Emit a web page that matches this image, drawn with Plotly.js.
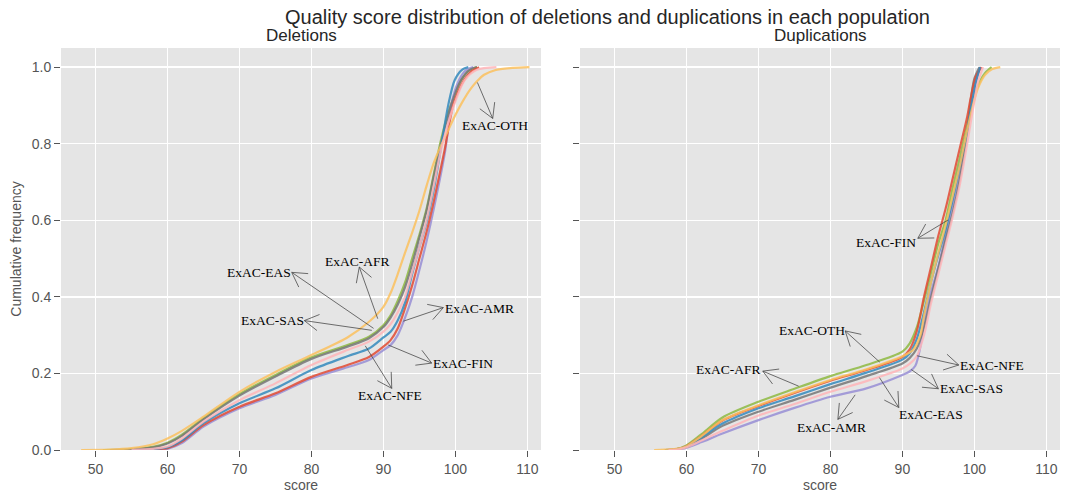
<!DOCTYPE html>
<html>
<head>
<meta charset="utf-8">
<script src="https://cdn.plot.ly/plotly-3.0.1.min.js"></script>
<style>html,body{margin:0;padding:0;background:#fff;}#chart{width:1070px;height:495px;}</style>
</head>
<body>
<div id="chart"></div>
<script>
// ---------- DATA ----------
const populations = ['ExAC-AFR','ExAC-AMR','ExAC-EAS','ExAC-FIN','ExAC-NFE','ExAC-OTH','ExAC-SAS'];
const popColors   = ['#8EBA42','#988ED5','#777777','#E24A33','#348ABD','#FBC15E','#FFB5B8'];

// Deletions (score, cumulative frequency)
const delAFR_x = [51,55,58,60,62,65,70,75,80,85,88,90,91,92,93,94,95,96,97,98,99.35,100.8,102,103];
const delAFR_y = [0,0.002,0.008,0.019,0.04,0.083,0.146,0.196,0.242,0.274,0.296,0.326,0.352,0.39,0.437,0.5,0.562,0.63,0.72,0.81,0.9,0.966,0.993,1.0];
const delAMR_x = [58,59,60,62,65,70,75,80,85,88,90,91,92,93,94,95,96,97,98.6,99.4,100.5,101.5,102.5];
const delAMR_y = [0,0.001,0.003,0.018,0.061,0.109,0.144,0.187,0.216,0.235,0.261,0.274,0.3,0.345,0.4,0.47,0.545,0.63,0.783,0.9,0.966,0.992,1.0];
const delEAS_x = [52,55,58,60,62,65,70,75,80,85,88,90,91,92,93,94,95,96,97,98,99.4,100.8,102,103];
const delEAS_y = [0,0.002,0.007,0.017,0.037,0.08,0.142,0.192,0.238,0.27,0.292,0.321,0.346,0.38,0.425,0.485,0.555,0.625,0.715,0.8,0.9,0.966,0.993,1.0];
const delFIN_x = [56,58,60,62,65,70,75,80,85,88,90,91,92,93,94,95,96,97,98.5,99.7,101.2,102.3,103.3];
const delFIN_y = [0,0.002,0.005,0.022,0.065,0.113,0.148,0.191,0.222,0.243,0.270,0.287,0.318,0.37,0.43,0.5,0.57,0.65,0.783,0.9,0.966,0.99,1.0];
const delNFE_x = [55,58,60,62,65,70,75,80,85,88,90,91,92,93,94,95,96,97,98,99,99.9,101,101.8];
const delNFE_y = [0,0.002,0.007,0.025,0.07,0.122,0.161,0.209,0.245,0.265,0.294,0.309,0.339,0.385,0.46,0.53,0.595,0.68,0.79,0.9,0.966,0.994,1.0];
const delOTH_x = [48,52,55,58,60,62,65,70,75,80,85,88,90,91,92,93,94,95,96,97,98,99,100,101,102,103,104,105.5,108,110.3];
const delOTH_y = [0,0.001,0.005,0.015,0.03,0.05,0.087,0.152,0.204,0.248,0.294,0.335,0.374,0.41,0.46,0.515,0.568,0.625,0.69,0.75,0.795,0.835,0.875,0.91,0.94,0.963,0.98,0.992,0.998,1.0];
const delSAS_x = [55,58,60,62,65,70,75,80,85,88,90,91,92,93,94,95,96,97,98,99.8,101.3,103,105.7];
const delSAS_y = [0,0.003,0.009,0.03,0.074,0.13,0.174,0.222,0.261,0.283,0.309,0.329,0.36,0.4,0.465,0.53,0.6,0.69,0.783,0.9,0.966,0.993,1.0];

// Duplications (score, cumulative frequency)
const dupAFR_x = [57,58.5,60,62,65,70,75,80,85,90,91,92,93,94,95,96,97,98,99,99.6,100.5,101.5,102.4];
const dupAFR_y = [0,0.002,0.012,0.04,0.085,0.126,0.16,0.193,0.222,0.257,0.278,0.32,0.39,0.465,0.54,0.6,0.685,0.765,0.85,0.9,0.952,0.985,1.0];
const dupAMR_x = [58,59,60,62,65,70,75,80,85,90,91,91.8,92.5,93,93.8,95,96,97,98,99,99.6,100.2,100.8];
const dupAMR_y = [0,0.002,0.006,0.02,0.043,0.078,0.11,0.139,0.161,0.196,0.205,0.22,0.27,0.33,0.4,0.48,0.56,0.64,0.73,0.83,0.9,0.96,1.0];
const dupEAS_x = [57,58.5,60,62,65,70,75,80,85,90,91,92,93,94,95,96,97,98,99,99.4,100,100.7];
const dupEAS_y = [0,0.002,0.008,0.028,0.063,0.10,0.131,0.163,0.193,0.226,0.24,0.265,0.32,0.4,0.475,0.55,0.62,0.71,0.83,0.9,0.97,1.0];
const dupFIN_x = [57,58.5,60,62,65,70,75,80,85,90,91,92,93,94,95,96,97,98,99,99.5,100.2,101];
const dupFIN_y = [0,0.002,0.01,0.035,0.077,0.115,0.149,0.181,0.209,0.243,0.262,0.31,0.4,0.48,0.56,0.63,0.71,0.79,0.87,0.92,0.975,1.0];
const dupNFE_x = [57,58.5,60,62,65,70,75,80,85,90,91,92,93,94,95,96,97,98,99,99.6,100.2,100.8];
const dupNFE_y = [0,0.002,0.009,0.032,0.069,0.109,0.14,0.172,0.202,0.236,0.252,0.29,0.36,0.44,0.51,0.575,0.655,0.745,0.83,0.9,0.96,1.0];
const dupOTH_x = [55.5,57,58.5,60,62,65,70,75,80,85,90,91.5,92.5,93,94,95,96,97,98,99,99.8,100.5,101.5,102.5,103.6];
const dupOTH_y = [0,0.001,0.003,0.01,0.035,0.078,0.117,0.151,0.183,0.211,0.245,0.262,0.3,0.35,0.44,0.515,0.587,0.665,0.745,0.835,0.9,0.945,0.98,0.995,1.0];
const dupSAS_x = [57.5,59,60,62,65,70,75,80,85,90,91,92,93,94,95,96,97,98,99,99.9,100.5,101.2];
const dupSAS_y = [0,0.002,0.007,0.024,0.05,0.09,0.12,0.152,0.18,0.213,0.225,0.245,0.3,0.385,0.46,0.535,0.61,0.695,0.8,0.9,0.96,1.0];

const delX = [delAFR_x, delAMR_x, delEAS_x, delFIN_x, delNFE_x, delOTH_x, delSAS_x];
const delY = [delAFR_y, delAMR_y, delEAS_y, delFIN_y, delNFE_y, delOTH_y, delSAS_y];
const dupX = [dupAFR_x, dupAMR_x, dupEAS_x, dupFIN_x, dupNFE_x, dupOTH_x, dupSAS_x];
const dupY = [dupAFR_y, dupAMR_y, dupEAS_y, dupFIN_y, dupNFE_y, dupOTH_y, dupSAS_y];

// Labels: text centre, arrow start (at text), arrow end (on curve)
const delLabels = [
  {label:'ExAC-OTH', tx:105.51, ty:0.847, sx:105.19, sy:0.866, ex:102.97, ey:0.964},
  {label:'ExAC-EAS', tx:72.78,  ty:0.464, sx:77.26,  sy:0.464, ex:88.84,  ey:0.315},
  {label:'ExAC-AFR', tx:86.36,  ty:0.492, sx:86.65,  sy:0.478, ex:89.29,  ey:0.339},
  {label:'ExAC-SAS', tx:74.59,  ty:0.338, sx:79.01,  sy:0.338, ex:88.6,   ey:0.312},
  {label:'ExAC-AMR', tx:103.29, ty:0.370, sx:98.33,  sy:0.372, ex:92.55,  ey:0.335},
  {label:'ExAC-FIN', tx:101.06, ty:0.225, sx:96.71,  sy:0.227, ex:90.46,  ey:0.276},
  {label:'ExAC-NFE', tx:90.85,  ty:0.142, sx:91.16,  sy:0.161, ex:87.35,  ey:0.276}
];
const dupLabels = [
  {label:'ExAC-FIN', tx:87.72,  ty:0.541, sx:92.14,  sy:0.553, ex:96.55,  ey:0.603},
  {label:'ExAC-OTH', tx:77.44,  ty:0.313, sx:82.05,  sy:0.311, ex:87.06,  ey:0.226},
  {label:'ExAC-AFR', tx:65.86,  ty:0.209, sx:70.6,   sy:0.206, ex:75.8,   ey:0.165},
  {label:'ExAC-AMR', tx:80.11,  ty:0.058, sx:81.03,  sy:0.080, ex:83.58,  ey:0.148},
  {label:'ExAC-EAS', tx:93.91,  ty:0.094, sx:89.5,   sy:0.111, ex:86.68,  ey:0.193},
  {label:'ExAC-SAS', tx:99.59,  ty:0.160, sx:95.0,   sy:0.160, ex:91.02,  ey:0.213},
  {label:'ExAC-NFE', tx:102.45, ty:0.220, sx:97.83,  sy:0.222, ex:91.81,  ey:0.247}
];

// ---------- LAYOUT GEOMETRY ----------
const X_RANGE = [45.2, 111.9];
const Y_RANGE = [0, 1.05];
const M = {l:61, r:10, t:48, b:45};
const W = 1070, H = 495;
const plotW = W - M.l - M.r, plotH = H - M.t - M.b;
const panelW = 480;
const dom1 = [0, panelW/plotW];
const dom2 = [1 - panelW/plotW, 1];
const PX_X = panelW/(X_RANGE[1]-X_RANGE[0]);
const PX_Y = plotH/(Y_RANGE[1]-Y_RANGE[0]);

// ---------- TRACES ----------
const traces = [];
function addPanel(xs, ys, xa, ya) {
  for (let i = 0; i < populations.length; i++) {
    traces.push({
      type:'scatter', mode:'lines', x: xs[i], y: ys[i], xaxis: xa, yaxis: ya,
      name: populations[i], showlegend:false, opacity:0.85,
      line:{color: popColors[i], width:2.2, shape:'spline', smoothing:0.8},
      hoverinfo:'skip'
    });
  }
}
addPanel(delX, delY, 'x', 'y');
addPanel(dupX, dupY, 'x2', 'y2');

// ---------- ANNOTATIONS ----------
const annotations = [];
const ARM_LEN = 18, ARM_ANG = 30*Math.PI/180, ARR_COL = '#4a4a4a';
function addLabels(list, xr, yr) {
  list.forEach(a => {
    annotations.push({x:a.tx, y:a.ty, xref:xr, yref:yr, text:a.label, showarrow:false,
      xanchor:'center', yanchor:'middle',
      font:{family:'Liberation Serif, Times New Roman, serif', size:13.5, color:'#000'}});
    // shaft
    annotations.push({x:a.sx, y:a.sy, xref:xr, yref:yr, ax:a.ex, ay:a.ey, axref:xr, ayref:yr,
      text:'', showarrow:true, arrowhead:0, arrowwidth:0.8, arrowcolor:ARR_COL, standoff:0, startstandoff:0});
    // open V head at text end
    const dx = (a.ex - a.sx)*PX_X, dy = -(a.ey - a.sy)*PX_Y;
    const len = Math.hypot(dx, dy) || 1;
    const ux = dx/len, uy = dy/len;
    [ARM_ANG, -ARM_ANG].forEach(t => {
      const rx = ux*Math.cos(t) - uy*Math.sin(t);
      const ry = ux*Math.sin(t) + uy*Math.cos(t);
      annotations.push({x:a.sx, y:a.sy, xref:xr, yref:yr, ax:rx*ARM_LEN, ay:ry*ARM_LEN,
        text:'', showarrow:true, arrowhead:0, arrowwidth:0.8, arrowcolor:ARR_COL, standoff:0, startstandoff:0});
    });
  });
}
addLabels(delLabels, 'x', 'y');
addLabels(dupLabels, 'x2', 'y2');

// subplot titles
const subTitleY = 1 + 12/plotH;
annotations.push({text:'Deletions', xref:'paper', yref:'paper', x:(dom1[0]+dom1[1])/2, y:subTitleY,
  xanchor:'center', yanchor:'middle', showarrow:false, font:{family:'Liberation Sans, Arial, sans-serif', size:17, color:'#262626'}});
annotations.push({text:'Duplications', xref:'paper', yref:'paper', x:(dom2[0]+dom2[1])/2, y:subTitleY,
  xanchor:'center', yanchor:'middle', showarrow:false, font:{family:'Liberation Sans, Arial, sans-serif', size:17, color:'#262626'}});

// ---------- AXES ----------
const tickFont = {family:'Liberation Sans, Arial, sans-serif', size:14, color:'#555555'};
function xAxis(domain) {
  return {domain, range:X_RANGE, tickvals:[50,60,70,80,90,100,110], showgrid:true, gridcolor:'#ffffff', gridwidth:1.3,
    zeroline:false, ticks:'outside', ticklen:6, tickwidth:1, tickcolor:'#555555', tickfont:tickFont,
    showline:false, title:{text:'score', font:tickFont, standoff:4}, fixedrange:true};
}
function yAxis(showLabels) {
  return {domain:[0,1], range:Y_RANGE, tickvals:[0,0.2,0.4,0.6,0.8,1.0], tickformat:'.1f',
    showgrid:true, gridcolor:'#ffffff', gridwidth:1.3, zeroline:false, ticks:'outside', ticklen:6, tickwidth:1,
    tickcolor:'#555555', tickfont:tickFont, showticklabels:showLabels, showline:false, fixedrange:true};
}
const yaxis1 = yAxis(true);
yaxis1.title = {text:'Cumulative frequency', font:tickFont, standoff:6};
const yaxis2 = yAxis(false);
yaxis2.anchor = 'x2';
const xaxis2 = xAxis(dom2); xaxis2.anchor = 'y2';

const layout = {
  width:W, height:H, margin:M, paper_bgcolor:'#ffffff', plot_bgcolor:'#E5E5E5',
  showlegend:false,
  title:{text:'Quality score distribution of deletions and duplications in each population',
    x:607.5/W, xanchor:'center', y:1-17/H, yanchor:'middle', yref:'container',
    font:{family:'Liberation Sans, Arial, sans-serif', size:20, color:'#262626'}},
  xaxis: Object.assign(xAxis(dom1), {anchor:'y'}),
  yaxis: yaxis1,
  xaxis2: xaxis2,
  yaxis2: yaxis2,
  annotations
};

Plotly.newPlot('chart', traces, layout, {displayModeBar:false, staticPlot:true});
</script>
</body>
</html>
